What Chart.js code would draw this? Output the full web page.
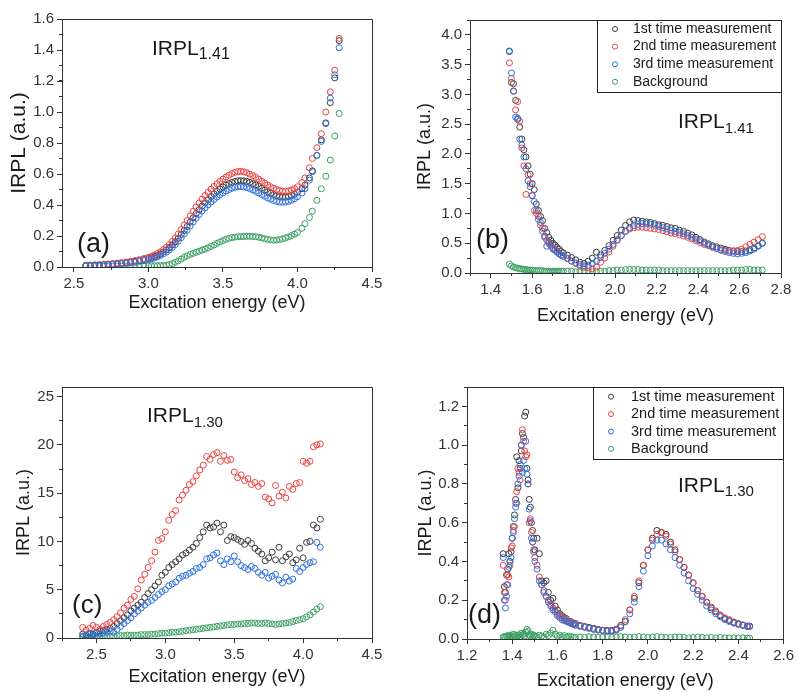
<!DOCTYPE html>
<html>
<head>
<meta charset="utf-8">
<script src="https://cdn.jsdelivr.net/npm/chart.js@4.4.0/dist/chart.umd.min.js"></script>
<style>
  body { margin: 0; background: #fff; width: 797px; height: 692px; position: relative; overflow: hidden; }
  canvas { position: absolute; }
</style>
</head>
<body>
<canvas id="panelA" width="398" height="330" style="left:0px;top:0px"></canvas>
<canvas id="panelB" width="399" height="335" style="left:398px;top:0px"></canvas>
<canvas id="panelC" width="398" height="357" style="left:0px;top:335px"></canvas>
<canvas id="panelD" width="399" height="357" style="left:398px;top:335px"></canvas>
<script>
// ---- data ----
const seriesLabels = ['1st time measurement', '2nd time measurement', '3rd time measurement', 'Background'];

// (a) IRPL 1.41, UV side
const aEnergy = [2.58, 2.61, 2.64, 2.67, 2.70, 2.73, 2.76, 2.79, 2.82, 2.85, 2.88, 2.91, 2.94, 2.97,
  3.00, 3.02, 3.04, 3.06, 3.08, 3.10, 3.12, 3.14, 3.16, 3.18, 3.20, 3.22, 3.24, 3.26, 3.28, 3.30, 3.32, 3.34, 3.36, 3.38, 3.40, 3.42, 3.44, 3.46, 3.48, 3.50,
  3.52, 3.54, 3.56, 3.58, 3.60, 3.62, 3.64, 3.66, 3.68, 3.70, 3.72, 3.74, 3.76, 3.78, 3.80, 3.82, 3.84, 3.86, 3.88, 3.90, 3.92, 3.94, 3.96, 3.98, 4.00,
  4.03, 4.05, 4.08, 4.10, 4.13, 4.16, 4.19, 4.22, 4.25, 4.28];
const aFirst = [0.010, 0.010, 0.012, 0.013, 0.015, 0.017, 0.019, 0.022, 0.025, 0.028, 0.032, 0.037, 0.042, 0.048,
  0.055, 0.060, 0.067, 0.075, 0.085, 0.097, 0.110, 0.125, 0.142, 0.162, 0.185, 0.210, 0.236, 0.262, 0.290, 0.318, 0.345, 0.370, 0.393, 0.415, 0.435, 0.455, 0.472, 0.488, 0.503, 0.516,
  0.528, 0.538, 0.546, 0.552, 0.556, 0.557, 0.556, 0.552, 0.546, 0.538, 0.530, 0.520, 0.508, 0.497, 0.486, 0.476, 0.467, 0.460, 0.455, 0.452, 0.452, 0.455, 0.461, 0.470, 0.482,
  0.505, 0.528, 0.575, 0.620, 0.720, 0.820, 0.930, 1.060, 1.220, 1.460];
const aSecond = [0.012, 0.012, 0.014, 0.015, 0.017, 0.019, 0.022, 0.025, 0.028, 0.032, 0.037, 0.042, 0.048, 0.055,
  0.063, 0.069, 0.077, 0.087, 0.098, 0.112, 0.127, 0.145, 0.165, 0.188, 0.214, 0.242, 0.271, 0.300, 0.330, 0.360, 0.388, 0.414, 0.438, 0.461, 0.482, 0.502, 0.520, 0.537, 0.553, 0.567,
  0.580, 0.592, 0.603, 0.611, 0.616, 0.617, 0.614, 0.608, 0.599, 0.589, 0.578, 0.566, 0.553, 0.541, 0.529, 0.518, 0.508, 0.500, 0.494, 0.490, 0.489, 0.491, 0.497, 0.506, 0.518,
  0.545, 0.575, 0.640, 0.700, 0.770, 0.860, 1.000, 1.130, 1.270, 1.475];
const aThird = [0.009, 0.009, 0.010, 0.011, 0.012, 0.014, 0.016, 0.018, 0.021, 0.024, 0.027, 0.031, 0.036, 0.041,
  0.047, 0.052, 0.058, 0.065, 0.074, 0.084, 0.096, 0.110, 0.126, 0.145, 0.166, 0.189, 0.213, 0.238, 0.264, 0.290, 0.315, 0.339, 0.361, 0.382, 0.401, 0.419, 0.436, 0.451, 0.465, 0.478,
  0.490, 0.500, 0.508, 0.514, 0.517, 0.518, 0.516, 0.512, 0.505, 0.497, 0.488, 0.478, 0.467, 0.456, 0.446, 0.437, 0.429, 0.423, 0.419, 0.418, 0.419, 0.423, 0.430, 0.440, 0.453,
  0.478, 0.505, 0.560, 0.615, 0.720, 0.810, 0.925, 1.090, 1.240, 1.415];
const aBackground = [0.005, 0.005, 0.005, 0.005, 0.005, 0.005, 0.006, 0.006, 0.006, 0.006, 0.006, 0.007, 0.007, 0.007,
  0.007, 0.008, 0.008, 0.008, 0.009, 0.010, 0.012, 0.016, 0.022, 0.030, 0.040, 0.051, 0.062, 0.072, 0.081, 0.088, 0.095, 0.102, 0.109, 0.116, 0.124, 0.133, 0.142, 0.152, 0.162, 0.171,
  0.179, 0.185, 0.190, 0.193, 0.195, 0.196, 0.197, 0.198, 0.198, 0.197, 0.195, 0.192, 0.188, 0.183, 0.178, 0.175, 0.173, 0.174, 0.177, 0.182, 0.188, 0.195, 0.203, 0.212, 0.222,
  0.250, 0.280, 0.320, 0.360, 0.430, 0.505, 0.585, 0.690, 0.845, 0.990];
const aXTicks = [2.5, 3.0, 3.5, 4.0, 4.5];
const aYTicks = [0, 0.2, 0.4, 0.6, 0.8, 1.0, 1.2, 1.4, 1.6];

// (b) IRPL 1.41, IR side
const bEnergy = [1.49, 1.50, 1.51, 1.52, 1.53, 1.54, 1.55, 1.56, 1.57, 1.58, 1.59, 1.60, 1.61, 1.62, 1.63, 1.64, 1.65, 1.66, 1.67, 1.68, 1.69, 1.70, 1.71, 1.72, 1.73, 1.74, 1.75,
  1.77, 1.79, 1.81, 1.83, 1.85, 1.87, 1.89, 1.91, 1.93, 1.95, 1.97, 1.99, 2.01, 2.03, 2.05, 2.07, 2.09, 2.11, 2.13, 2.15, 2.17, 2.19, 2.21, 2.23,
  2.25, 2.27, 2.29, 2.31, 2.33, 2.35, 2.37, 2.39, 2.41, 2.43, 2.45, 2.47, 2.49, 2.51, 2.53, 2.55, 2.57, 2.59, 2.61, 2.63, 2.65, 2.67, 2.69, 2.71];
const bFirst = [3.72, 3.20, 3.18, 2.90, 2.58, 2.45, 2.25, 2.07, 1.95, 1.80, 1.66, 1.50, 1.40, 1.16, 1.05, 0.95, 0.88, 0.75, 0.68, 0.60, 0.55, 0.50, 0.47, 0.43, 0.40, 0.36, 0.34,
  0.30, 0.26, 0.22, 0.18, 0.16, 0.20, 0.25, 0.35, 0.30, 0.38, 0.46, 0.55, 0.63, 0.72, 0.80, 0.86, 0.89, 0.88, 0.87, 0.86, 0.85, 0.83, 0.81, 0.80,
  0.78, 0.76, 0.75, 0.72, 0.70, 0.67, 0.64, 0.60, 0.56, 0.52, 0.49, 0.46, 0.44, 0.42, 0.40, 0.38, 0.37, 0.36, 0.36, 0.37, 0.39, 0.42, 0.46, 0.50];
const bSecond = [3.53, 3.27, 3.06, 2.74, 2.88, 2.55, 2.10, 1.80, 1.32, 1.65, 1.50, 1.30, 1.05, 1.00, 0.95, 0.80, 0.75, 0.62, 0.55, 0.50, 0.45, 0.42, 0.40, 0.37, 0.33, 0.30, 0.28,
  0.24, 0.20, 0.16, 0.12, 0.10, 0.09, 0.07, 0.10, 0.18, 0.25, 0.35, 0.45, 0.55, 0.63, 0.70, 0.74, 0.76, 0.77, 0.77, 0.76, 0.75, 0.74, 0.73, 0.71,
  0.69, 0.67, 0.66, 0.64, 0.62, 0.60, 0.57, 0.54, 0.51, 0.48, 0.46, 0.43, 0.41, 0.39, 0.38, 0.37, 0.37, 0.38, 0.40, 0.44, 0.48, 0.52, 0.56, 0.61];
const bThird = [3.73, 3.36, 3.05, 2.62, 2.60, 2.25, 2.15, 1.95, 1.75, 1.55, 1.45, 1.30, 1.20, 1.05, 0.90, 0.85, 0.70, 0.60, 0.45, 0.52, 0.48, 0.40, 0.38, 0.35, 0.32, 0.30, 0.28,
  0.25, 0.20, 0.17, 0.14, 0.12, 0.13, 0.16, 0.20, 0.26, 0.33, 0.40, 0.48, 0.56, 0.63, 0.70, 0.76, 0.80, 0.82, 0.83, 0.83, 0.82, 0.80, 0.78, 0.76,
  0.74, 0.72, 0.70, 0.68, 0.66, 0.63, 0.60, 0.57, 0.54, 0.50, 0.47, 0.44, 0.41, 0.38, 0.36, 0.34, 0.33, 0.32, 0.33, 0.34, 0.37, 0.40, 0.45, 0.50];
const bBackground = [0.15, 0.12, 0.10, 0.09, 0.08, 0.07, 0.07, 0.06, 0.06, 0.05, 0.05, 0.05, 0.04, 0.04, 0.04, 0.04, 0.04, 0.03, 0.03, 0.03, 0.03, 0.03, 0.03, 0.03, 0.03, 0.03, 0.03,
  0.03, 0.03, 0.02, 0.02, 0.02, 0.02, 0.02, 0.03, 0.03, 0.03, 0.04, 0.04, 0.05, 0.05, 0.06, 0.06, 0.06, 0.06, 0.05, 0.05, 0.05, 0.05, 0.05, 0.04,
  0.04, 0.04, 0.04, 0.04, 0.04, 0.04, 0.04, 0.04, 0.04, 0.04, 0.04, 0.04, 0.04, 0.04, 0.04, 0.04, 0.05, 0.05, 0.05, 0.06, 0.06, 0.05, 0.05, 0.05];
const bXTicks = [1.4, 1.6, 1.8, 2.0, 2.2, 2.4, 2.6, 2.8];
const bYTicks = [0, 0.5, 1.0, 1.5, 2.0, 2.5, 3.0, 3.5, 4.0];

// (c) IRPL 1.30, UV side
const cEnergy = [2.400, 2.425, 2.450, 2.475, 2.500, 2.525, 2.550, 2.575, 2.600, 2.625, 2.650, 2.675, 2.700, 2.725, 2.750, 2.775, 2.800, 2.825, 2.850, 2.875, 2.900, 2.925, 2.950, 2.975,
  3.000, 3.025, 3.050, 3.075, 3.100, 3.125, 3.150, 3.175, 3.200, 3.225, 3.250, 3.275, 3.300, 3.325, 3.350, 3.375, 3.400, 3.425, 3.450, 3.475, 3.500, 3.525, 3.550, 3.575,
  3.600, 3.625, 3.650, 3.675, 3.700, 3.725, 3.750, 3.775, 3.800, 3.825, 3.850, 3.875, 3.900, 3.925, 3.950, 3.975, 4.000, 4.025, 4.050, 4.075, 4.100, 4.125];
const cFirst = [0.4, 0.3, 0.5, 0.4, 0.6, 0.7, 0.8, 0.9, 1.0, 1.2, 1.5, 1.8, 2.1, 2.4, 2.8, 3.1, 3.4, 3.7, 4.2, 4.6, 5.0, 5.4, 5.8, 6.5,
  6.8, 7.3, 7.6, 7.9, 8.2, 8.6, 8.8, 9.1, 9.4, 9.8, 10.4, 11.0, 11.7, 11.4, 11.5, 11.9, 11.0, 11.7, 10.1, 10.5, 10.4, 10.2, 10.0, 9.7,
  10.1, 9.8, 9.3, 9.0, 8.7, 8.0, 8.3, 8.9, 8.1, 9.4, 8.0, 8.4, 8.7, 7.8, 8.1, 9.3, 8.3, 9.9, 10.0, 11.7, 11.4, 12.3];
const cSecond = [1.1, 0.8, 1.0, 1.3, 1.1, 0.9, 1.2, 1.4, 1.6, 1.9, 2.2, 2.6, 3.1, 3.4, 4.0, 4.3, 5.1, 6.0, 6.6, 7.3, 8.0, 8.9, 10.1, 10.3,
  11.0, 12.2, 12.8, 13.2, 14.3, 14.8, 15.3, 15.9, 16.2, 16.8, 17.4, 17.9, 18.8, 18.5, 19.0, 19.2, 18.3, 18.9, 18.4, 18.5, 17.2, 16.6, 16.9, 16.3,
  16.5, 15.9, 16.1, 15.7, 16.0, 14.6, 14.4, 14.0, 15.8, 14.7, 15.1, 14.5, 15.7, 15.4, 16.0, 16.1, 18.3, 18.1, 18.3, 19.8, 20.0, 20.1];
const cThird = [0.2, 0.3, 0.4, 0.3, 0.5, 0.4, 0.5, 0.6, 0.7, 0.6, 0.9, 1.2, 1.5, 1.8, 2.1, 2.5, 2.8, 3.1, 3.4, 3.7, 3.9, 4.2, 4.5, 4.8,
  5.0, 5.4, 5.6, 5.8, 6.2, 6.4, 6.5, 6.7, 6.9, 7.2, 7.3, 7.6, 8.2, 8.3, 8.6, 8.8, 8.0, 7.6, 8.2, 7.9, 8.5, 7.9, 7.5, 7.3,
  7.1, 7.4, 7.2, 6.8, 6.5, 6.8, 6.2, 6.4, 6.6, 6.0, 5.7, 6.3, 5.9, 6.1, 7.2, 6.9, 7.3, 7.6, 7.8, 7.9, 9.9, 9.4];
const cBackground = [0.1, 0.1, 0.1, 0.15, 0.15, 0.15, 0.2, 0.2, 0.2, 0.2, 0.25, 0.25, 0.25, 0.3, 0.3, 0.3, 0.3, 0.35, 0.35, 0.35, 0.4, 0.4, 0.45, 0.5,
  0.5, 0.55, 0.6, 0.6, 0.65, 0.7, 0.75, 0.8, 0.85, 0.9, 0.95, 1.0, 1.05, 1.1, 1.15, 1.2, 1.25, 1.3, 1.35, 1.4, 1.4, 1.45, 1.45, 1.5,
  1.5, 1.55, 1.55, 1.5, 1.5, 1.55, 1.5, 1.45, 1.4, 1.45, 1.5, 1.55, 1.6, 1.7, 1.8, 1.9, 2.0, 2.2, 2.4, 2.7, 3.0, 3.25];
const cXTicks = [2.5, 3.0, 3.5, 4.0, 4.5];
const cYTicks = [0, 5, 10, 15, 20, 25];

// (d) IRPL 1.30, IR side
const dEnergy = [1.360, 1.365, 1.370, 1.375, 1.380, 1.385, 1.390, 1.395, 1.400, 1.405, 1.410, 1.415, 1.420, 1.425, 1.430, 1.435, 1.440, 1.445, 1.450, 1.455, 1.460, 1.465, 1.470, 1.475, 1.480, 1.485, 1.490, 1.495, 1.500,
  1.51, 1.52, 1.53, 1.54, 1.55, 1.56, 1.57, 1.58, 1.59, 1.60, 1.61, 1.62, 1.63, 1.64, 1.65, 1.66, 1.67, 1.68,
  1.70, 1.72, 1.74, 1.76, 1.78, 1.80, 1.82, 1.84, 1.86, 1.88, 1.90, 1.92, 1.94, 1.96, 1.98, 2.00, 2.02, 2.04, 2.06,
  2.08, 2.10, 2.12, 2.14, 2.16, 2.18, 2.20, 2.22, 2.24, 2.26, 2.28, 2.30, 2.32, 2.34, 2.36, 2.38, 2.40, 2.42, 2.44, 2.45];
const dFirst = [0.44, 0.27, 0.24, 0.33, 0.36, 0.44, 0.40, 0.45, 0.52, 0.58, 0.64, 0.72, 0.94, 0.78, 0.92, 0.88, 0.97, 1.06, 1.04, 1.15, 1.17, 0.88, 0.82, 0.72, 0.68, 0.60, 0.56, 0.52, 0.46,
  0.52, 0.44, 0.30, 0.29, 0.30, 0.24, 0.20, 0.21, 0.17, 0.15, 0.13, 0.12, 0.11, 0.105, 0.09, 0.09, 0.08, 0.08,
  0.07, 0.065, 0.06, 0.055, 0.05, 0.045, 0.045, 0.045, 0.05, 0.07, 0.09, 0.15, 0.21, 0.29, 0.38, 0.46, 0.52, 0.56, 0.55,
  0.54, 0.50, 0.46, 0.41, 0.37, 0.33, 0.29, 0.25, 0.22, 0.19, 0.16, 0.14, 0.12, 0.105, 0.095, 0.085, 0.078, 0.072, 0.066, 0.065];
const dSecond = [0.38, 0.24, 0.20, 0.28, 0.33, 0.32, 0.38, 0.47, 0.48, 0.56, 0.58, 0.70, 0.76, 0.88, 0.86, 0.82, 1.00, 1.08, 1.02, 0.97, 0.94, 0.95, 0.80, 0.60, 0.62, 0.55, 0.50, 0.46, 0.42,
  0.38, 0.32, 0.28, 0.25, 0.22, 0.20, 0.18, 0.16, 0.15, 0.13, 0.12, 0.11, 0.10, 0.095, 0.09, 0.085, 0.08, 0.075,
  0.068, 0.062, 0.056, 0.05, 0.047, 0.044, 0.042, 0.042, 0.05, 0.068, 0.10, 0.15, 0.22, 0.30, 0.38, 0.46, 0.51, 0.54, 0.55,
  0.53, 0.49, 0.45, 0.41, 0.37, 0.33, 0.29, 0.25, 0.22, 0.19, 0.165, 0.145, 0.125, 0.11, 0.10, 0.088, 0.08, 0.073, 0.067, 0.066];
const dThird = [0.42, 0.20, 0.16, 0.22, 0.28, 0.37, 0.40, 0.42, 0.52, 0.55, 0.62, 0.68, 0.70, 0.80, 0.84, 0.90, 1.00, 0.86, 0.92, 0.88, 1.02, 0.85, 0.80, 0.67, 0.61, 0.52, 0.50, 0.45, 0.40,
  0.36, 0.30, 0.28, 0.24, 0.22, 0.19, 0.17, 0.15, 0.14, 0.12, 0.11, 0.10, 0.095, 0.09, 0.085, 0.08, 0.075, 0.07,
  0.065, 0.06, 0.055, 0.05, 0.046, 0.043, 0.040, 0.040, 0.045, 0.06, 0.09, 0.13, 0.19, 0.27, 0.35, 0.43, 0.48, 0.51, 0.51,
  0.49, 0.46, 0.42, 0.38, 0.34, 0.30, 0.26, 0.23, 0.20, 0.17, 0.15, 0.13, 0.115, 0.10, 0.09, 0.082, 0.075, 0.07, 0.064, 0.066];
const dBackground = [0.010, 0.012, 0.008, 0.015, 0.010, 0.020, 0.012, 0.018, 0.010, 0.025, 0.015, 0.020, 0.010, 0.018, 0.022, 0.012, 0.030, 0.020, 0.025, 0.015, 0.035, 0.050, 0.040, 0.020, 0.015, 0.025, 0.010, 0.020, 0.015,
  0.012, 0.020, 0.015, 0.010, 0.025, 0.018, 0.030, 0.045, 0.025, 0.015, 0.020, 0.012, 0.018, 0.010, 0.015, 0.012, 0.010, 0.008,
  0.010, 0.008, 0.012, 0.010, 0.008, 0.010, 0.012, 0.008, 0.010, 0.012, 0.010, 0.008, 0.010, 0.012, 0.010, 0.008, 0.010, 0.012, 0.010,
  0.008, 0.008, 0.010, 0.010, 0.008, 0.006, 0.008, 0.010, 0.008, 0.006, 0.008, 0.006, 0.008, 0.006, 0.005, 0.006, 0.005, 0.006, 0.005, 0.005];
const dXTicks = [1.2, 1.4, 1.6, 1.8, 2.0, 2.2, 2.4, 2.6];
const dYTicks = [0, 0.2, 0.4, 0.6, 0.8, 1.0, 1.2];

// ---- styling ----
const fontFamily = "'Liberation Sans', Arial, sans-serif";
const seriesColors = ['#3c3c3c', '#ee4040', '#2d70e0', '#3a9f60'];
const drawOrder = [2, 1, 0, 3]; // blue on top, background underneath
const axisColor = '#333';

Chart.defaults.font.family = fontFamily;
Chart.defaults.color = '#333';

function zip(xs, ys) {
  return xs.map((x, i) => ({ x: x, y: ys[i] }));
}

function buildDatasets(xs, seriesList) {
  return seriesList.map((ys, k) => ({
    label: seriesLabels[k],
    data: zip(xs, ys),
    borderColor: seriesColors[k],
    backgroundColor: 'rgba(0,0,0,0)',
    pointRadius: 3,
    pointHoverRadius: 3,
    pointBorderWidth: 1,
    showLine: false,
    order: drawOrder[k]
  }));
}

function alignPx(p) {
  return Math.round(p - 0.5) + 0.5;
}

// box lines on top/right, like Origin's frame
const framePlugin = {
  id: 'frame',
  afterDraw(chart) {
    const { left, top, right, bottom } = chart.chartArea;
    const ctx = chart.ctx;
    ctx.save();
    ctx.strokeStyle = axisColor;
    ctx.lineWidth = 1;
    ctx.beginPath();
    ctx.moveTo(alignPx(left), alignPx(top));
    ctx.lineTo(alignPx(right), alignPx(top));
    ctx.lineTo(alignPx(right), alignPx(bottom));
    ctx.stroke();
    ctx.restore();
  }
};

// short minor ticks between the labelled ones
const minorTickPlugin = {
  id: 'minorTicks',
  afterDraw(chart, args, opts) {
    const ctx = chart.ctx;
    const xs = chart.scales.x, ys = chart.scales.y;
    ctx.save();
    ctx.strokeStyle = axisColor;
    ctx.lineWidth = 1;
    ctx.beginPath();
    for (let i = Math.ceil(xs.min / opts.x - 1e-6); i * opts.x <= xs.max + 1e-6; i++) {
      const px = alignPx(xs.getPixelForValue(i * opts.x));
      ctx.moveTo(px, xs.top);
      ctx.lineTo(px, xs.top + 3);
    }
    for (let i = Math.ceil(ys.min / opts.y - 1e-6); i * opts.y <= ys.max + 1e-6; i++) {
      const py = alignPx(ys.getPixelForValue(i * opts.y));
      ctx.moveTo(ys.right, py);
      ctx.lineTo(ys.right - 3, py);
    }
    ctx.stroke();
    ctx.restore();
  }
};

// IRPL label, panel letter and the boxed legend
const notesPlugin = {
  id: 'notes',
  afterDraw(chart, args, opts) {
    const ctx = chart.ctx;
    ctx.save();
    ctx.fillStyle = '#1a1a1a';
    ctx.textAlign = 'left';
    ctx.textBaseline = 'alphabetic';
    const n = opts.name;
    ctx.font = n.size + 'px ' + fontFamily;
    ctx.fillText(n.main, n.x, n.y);
    const w = ctx.measureText(n.main).width;
    ctx.font = n.subSize + 'px ' + fontFamily;
    ctx.fillText(n.sub, n.x + w, n.y + n.subDrop);

    ctx.font = opts.tag.size + 'px ' + fontFamily;
    ctx.fillText(opts.tag.text, opts.tag.x, opts.tag.y);

    const lg = opts.legend;
    if (lg) {
      const area = chart.chartArea;
      ctx.strokeStyle = '#222';
      ctx.lineWidth = 1;
      ctx.strokeRect(alignPx(lg.x), alignPx(area.top), alignPx(area.right) - alignPx(lg.x), alignPx(lg.bottom) - alignPx(area.top));
      ctx.font = lg.size + 'px ' + fontFamily;
      ctx.textBaseline = 'middle';
      chart.data.datasets.forEach((ds, k) => {
        const ry = lg.rowStart + k * lg.rowGap;
        ctx.beginPath();
        ctx.strokeStyle = ds.borderColor;
        ctx.arc(lg.markerX, ry, 2.5, 0, Math.PI * 2);
        ctx.stroke();
        ctx.fillStyle = '#1a1a1a';
        ctx.fillText(ds.label, lg.textX, ry);
      });
    }
    ctx.restore();
  }
};

function axis(position, range, tickValues, digits, title, titleSize, titlePad, size) {
  return {
    type: 'linear',
    position: position,
    min: range[0],
    max: range[1],
    afterBuildTicks: scale => { scale.ticks = tickValues.map(v => ({ value: v })); },
    afterFit: scale => {
      if (position === 'bottom') scale.height = size; else scale.width = size;
    },
    ticks: {
      font: { size: 15 },
      color: '#333',
      padding: 3,
      autoSkip: false,
      maxRotation: 0,
      callback: v => v.toFixed(digits)
    },
    grid: { drawOnChartArea: false, drawTicks: true, tickLength: 5, color: axisColor, lineWidth: 1 },
    border: { display: true, color: axisColor, width: 1 },
    title: {
      display: true,
      text: title,
      color: '#1a1a1a',
      font: { size: titleSize },
      padding: { top: titlePad, bottom: titlePad }
    }
  };
}

function makePanel(id, p) {
  new Chart(document.getElementById(id), {
    type: 'scatter',
    data: { datasets: buildDatasets(p.x, p.series) },
    options: {
      responsive: false,
      animation: false,
      devicePixelRatio: 1,
      events: [],
      layout: { padding: p.pad },
      plugins: {
        legend: { display: false },
        tooltip: { enabled: false },
        minorTicks: p.minor,
        notes: p.notes
      },
      scales: {
        x: axis('bottom', p.xRange, p.xTicks, 1, 'Excitation energy (eV)', 18, p.xTitlePad, p.xHeight),
        y: axis('left', p.yRange, p.yTicks, p.yDigits, 'IRPL (a.u.)', p.yTitleSize, p.yTitlePad, p.yWidth)
      }
    },
    plugins: [framePlugin, minorTickPlugin, notesPlugin]
  });
}

makePanel('panelA', {
  x: aEnergy, series: [aFirst, aSecond, aThird, aBackground],
  xRange: [2.42, 4.5], yRange: [0, 1.6], xTicks: aXTicks, yTicks: aYTicks, yDigits: 1,
  pad: { left: 0, top: 19, right: 26, bottom: 0 }, xHeight: 63, yWidth: 62,
  xTitlePad: 16, yTitlePad: 7, yTitleSize: 21,
  minor: { x: 0.25, y: 0.1 },
  notes: {
    name: { main: 'IRPL', sub: '1.41', x: 152, y: 55, size: 21, subSize: 16, subDrop: 4 },
    tag: { text: '(a)', x: 77, y: 252, size: 27 }
  }
});

makePanel('panelB', {
  x: bEnergy, series: [bFirst, bSecond, bThird, bBackground],
  xRange: [1.3, 2.8], yRange: [0, 4.25], xTicks: bXTicks, yTicks: bYTicks, yDigits: 1,
  pad: { left: 0, top: 20, right: 16, bottom: 0 }, xHeight: 62, yWidth: 72,
  xTitlePad: 8, yTitlePad: 16, yTitleSize: 18,
  minor: { x: 0.1, y: 0.25 },
  notes: {
    name: { main: 'IRPL', sub: '1.41', x: 280, y: 128, size: 21, subSize: 15, subDrop: 5 },
    tag: { text: '(b)', x: 78, y: 248, size: 27 },
    legend: { x: 199, bottom: 92, rowStart: 29, rowGap: 17.6, markerX: 217, textX: 235, size: 14 }
  }
});

makePanel('panelC', {
  x: cEnergy, series: [cFirst, cSecond, cThird, cBackground],
  xRange: [2.25, 4.5], yRange: [0, 26], xTicks: cXTicks, yTicks: cYTicks, yDigits: 0,
  pad: { left: 0, top: 52, right: 26, bottom: 0 }, xHeight: 54, yWidth: 62,
  xTitlePad: 4, yTitlePad: 13, yTitleSize: 18,
  minor: { x: 0.25, y: 2.5 },
  notes: {
    name: { main: 'IRPL', sub: '1.30', x: 147, y: 87, size: 21, subSize: 15, subDrop: 5 },
    tag: { text: '(c)', x: 72, y: 278, size: 26 }
  }
});

makePanel('panelD', {
  x: dEnergy, series: [dFirst, dSecond, dThird, dBackground],
  xRange: [1.2, 2.6], yRange: [0, 1.3], xTicks: dXTicks, yTicks: dYTicks, yDigits: 1,
  pad: { left: 0, top: 52, right: 12, bottom: 0 }, xHeight: 53, yWidth: 69,
  xTitlePad: 0, yTitlePad: 17, yTitleSize: 18,
  minor: { x: 0.1, y: 0.1 },
  notes: {
    name: { main: 'IRPL', sub: '1.30', x: 280, y: 157, size: 21, subSize: 15, subDrop: 4 },
    tag: { text: '(d)', x: 70, y: 288, size: 27 },
    legend: { x: 195, bottom: 124, rowStart: 61.7, rowGap: 17.4, markerX: 213, textX: 233, size: 14.5 }
  }
});
</script>
</body>
</html>
